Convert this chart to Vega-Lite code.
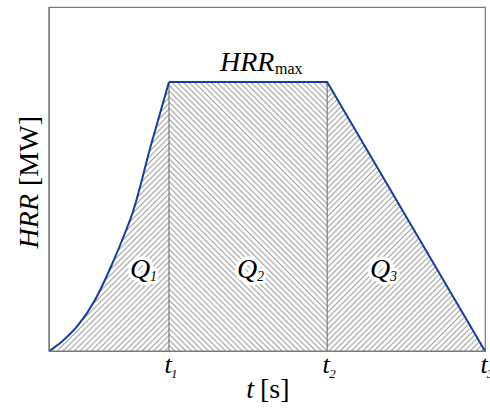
{
  "$schema": "https://vega.github.io/schema/vega-lite/v6.json",
  "width": 436,
  "height": 344,
  "autosize": {"type": "none"},
  "padding": {"left": 49, "top": 7, "right": 5, "bottom": 59},
  "background": "white",
  "config": {
    "view": {"stroke": "#7a7a7a", "strokeWidth": 1.2},
    "axis": {"disable": true},
    "text": {"font": "Liberation Serif", "color": "#000"}
  },
  "datasets": {
    "hrr": [
      {"t": 0, "q": 0, "part": "rise"},
      {"t": 2.91, "q": 2.7, "part": "rise"},
      {"t": 6.72, "q": 7.56, "part": "rise"},
      {"t": 10.55, "q": 14.83, "part": "rise"},
      {"t": 14.38, "q": 25.0, "part": "rise"},
      {"t": 17.43, "q": 34.3, "part": "rise"},
      {"t": 19.15, "q": 40.1, "part": "rise"},
      {"t": 23.39, "q": 59.9, "part": "rise"},
      {"t": 27.52, "q": 78.2, "part": "rise"},
      {"t": 27.52, "q": 78.2, "part": "fall"},
      {"t": 63.8, "q": 78.2, "part": "fall"},
      {"t": 100, "q": 0, "part": "fall"}
    ],
    "phases": [{"start": 27.52, "end": 63.8, "peak": 78.2}],
    "times": [
      {"t": 27.52, "sub": "1"},
      {"t": 63.8, "sub": "2"},
      {"t": 100, "sub": "3"}
    ],
    "heat": [
      {"t": 18.58, "h": 21.2, "sub": "1"},
      {"t": 43.1, "h": 21.2, "sub": "2"},
      {"t": 73.6, "h": 21.2, "sub": "3"}
    ]
  },
  "layer": [
    {
      "data": {"name": "hrr"},
      "transform": [{"filter": "datum.part === 'rise' || datum.t > 27.52"}],
      "mark": {
        "type": "area",
        "interpolate": "linear",
        "opacity": 1,
        "fill": {
          "gradient": "linear", "x1": 0, "y1": 0, "x2": 1.1747, "y2": 0.7247,
          "stops": [
            {"offset":0,"color":"#a8a8a8"},{"offset":0.0024,"color":"#fff"},{"offset":0.0056,"color":"#fff"},
            {"offset":0.008,"color":"#a8a8a8"},{"offset":0.0104,"color":"#fff"},{"offset":0.0136,"color":"#fff"},
            {"offset":0.016,"color":"#a8a8a8"},{"offset":0.0184,"color":"#fff"},{"offset":0.0216,"color":"#fff"},
            {"offset":0.024,"color":"#a8a8a8"},{"offset":0.0264,"color":"#fff"},{"offset":0.0296,"color":"#fff"},
            {"offset":0.032,"color":"#a8a8a8"},{"offset":0.0344,"color":"#fff"},{"offset":0.0376,"color":"#fff"},
            {"offset":0.04,"color":"#a8a8a8"},{"offset":0.0424,"color":"#fff"},{"offset":0.0456,"color":"#fff"},
            {"offset":0.048,"color":"#a8a8a8"},{"offset":0.0504,"color":"#fff"},{"offset":0.0536,"color":"#fff"},
            {"offset":0.056,"color":"#a8a8a8"},{"offset":0.0584,"color":"#fff"},{"offset":0.0616,"color":"#fff"},
            {"offset":0.064,"color":"#a8a8a8"},{"offset":0.0664,"color":"#fff"},{"offset":0.0696,"color":"#fff"},
            {"offset":0.072,"color":"#a8a8a8"},{"offset":0.0744,"color":"#fff"},{"offset":0.0776,"color":"#fff"},
            {"offset":0.08,"color":"#a8a8a8"},{"offset":0.0824,"color":"#fff"},{"offset":0.0856,"color":"#fff"},
            {"offset":0.088,"color":"#a8a8a8"},{"offset":0.0904,"color":"#fff"},{"offset":0.0936,"color":"#fff"},
            {"offset":0.096,"color":"#a8a8a8"},{"offset":0.0984,"color":"#fff"},{"offset":0.1016,"color":"#fff"},
            {"offset":0.104,"color":"#a8a8a8"},{"offset":0.1064,"color":"#fff"},{"offset":0.1096,"color":"#fff"},
            {"offset":0.112,"color":"#a8a8a8"},{"offset":0.1144,"color":"#fff"},{"offset":0.1176,"color":"#fff"},
            {"offset":0.12,"color":"#a8a8a8"},{"offset":0.1224,"color":"#fff"},{"offset":0.1256,"color":"#fff"},
            {"offset":0.128,"color":"#a8a8a8"},{"offset":0.1304,"color":"#fff"},{"offset":0.1336,"color":"#fff"},
            {"offset":0.136,"color":"#a8a8a8"},{"offset":0.1384,"color":"#fff"},{"offset":0.1416,"color":"#fff"},
            {"offset":0.144,"color":"#a8a8a8"},{"offset":0.1464,"color":"#fff"},{"offset":0.1496,"color":"#fff"},
            {"offset":0.152,"color":"#a8a8a8"},{"offset":0.1544,"color":"#fff"},{"offset":0.1576,"color":"#fff"},
            {"offset":0.16,"color":"#a8a8a8"},{"offset":0.1624,"color":"#fff"},{"offset":0.1656,"color":"#fff"},
            {"offset":0.168,"color":"#a8a8a8"},{"offset":0.1704,"color":"#fff"},{"offset":0.1736,"color":"#fff"},
            {"offset":0.176,"color":"#a8a8a8"},{"offset":0.1784,"color":"#fff"},{"offset":0.1816,"color":"#fff"},
            {"offset":0.184,"color":"#a8a8a8"},{"offset":0.1864,"color":"#fff"},{"offset":0.1896,"color":"#fff"},
            {"offset":0.192,"color":"#a8a8a8"},{"offset":0.1944,"color":"#fff"},{"offset":0.1976,"color":"#fff"},
            {"offset":0.2,"color":"#a8a8a8"},{"offset":0.2024,"color":"#fff"},{"offset":0.2056,"color":"#fff"},
            {"offset":0.208,"color":"#a8a8a8"},{"offset":0.2104,"color":"#fff"},{"offset":0.2136,"color":"#fff"},
            {"offset":0.216,"color":"#a8a8a8"},{"offset":0.2184,"color":"#fff"},{"offset":0.2216,"color":"#fff"},
            {"offset":0.224,"color":"#a8a8a8"},{"offset":0.2264,"color":"#fff"},{"offset":0.2296,"color":"#fff"},
            {"offset":0.232,"color":"#a8a8a8"},{"offset":0.2344,"color":"#fff"},{"offset":0.2376,"color":"#fff"},
            {"offset":0.24,"color":"#a8a8a8"},{"offset":0.2424,"color":"#fff"},{"offset":0.2456,"color":"#fff"},
            {"offset":0.248,"color":"#a8a8a8"},{"offset":0.2504,"color":"#fff"},{"offset":0.2536,"color":"#fff"},
            {"offset":0.256,"color":"#a8a8a8"},{"offset":0.2584,"color":"#fff"},{"offset":0.2616,"color":"#fff"},
            {"offset":0.264,"color":"#a8a8a8"},{"offset":0.2664,"color":"#fff"},{"offset":0.2696,"color":"#fff"},
            {"offset":0.272,"color":"#a8a8a8"},{"offset":0.2744,"color":"#fff"},{"offset":0.2776,"color":"#fff"},
            {"offset":0.28,"color":"#a8a8a8"},{"offset":0.2824,"color":"#fff"},{"offset":0.2856,"color":"#fff"},
            {"offset":0.288,"color":"#a8a8a8"},{"offset":0.2904,"color":"#fff"},{"offset":0.2936,"color":"#fff"},
            {"offset":0.296,"color":"#a8a8a8"},{"offset":0.2984,"color":"#fff"},{"offset":0.3016,"color":"#fff"},
            {"offset":0.304,"color":"#a8a8a8"},{"offset":0.3064,"color":"#fff"},{"offset":0.3096,"color":"#fff"},
            {"offset":0.312,"color":"#a8a8a8"},{"offset":0.3144,"color":"#fff"},{"offset":0.3176,"color":"#fff"},
            {"offset":0.32,"color":"#a8a8a8"},{"offset":0.3224,"color":"#fff"},{"offset":0.3256,"color":"#fff"},
            {"offset":0.328,"color":"#a8a8a8"},{"offset":0.3304,"color":"#fff"},{"offset":0.3336,"color":"#fff"},
            {"offset":0.336,"color":"#a8a8a8"},{"offset":0.3384,"color":"#fff"},{"offset":0.3416,"color":"#fff"},
            {"offset":0.344,"color":"#a8a8a8"},{"offset":0.3464,"color":"#fff"},{"offset":0.3496,"color":"#fff"},
            {"offset":0.352,"color":"#a8a8a8"},{"offset":0.3544,"color":"#fff"},{"offset":0.3576,"color":"#fff"},
            {"offset":0.36,"color":"#a8a8a8"},{"offset":0.3624,"color":"#fff"},{"offset":0.3656,"color":"#fff"},
            {"offset":0.368,"color":"#a8a8a8"},{"offset":0.3704,"color":"#fff"},{"offset":0.3736,"color":"#fff"},
            {"offset":0.376,"color":"#a8a8a8"},{"offset":0.3784,"color":"#fff"},{"offset":0.3816,"color":"#fff"},
            {"offset":0.384,"color":"#a8a8a8"},{"offset":0.3864,"color":"#fff"},{"offset":0.3896,"color":"#fff"},
            {"offset":0.392,"color":"#a8a8a8"},{"offset":0.3944,"color":"#fff"},{"offset":0.3976,"color":"#fff"},
            {"offset":0.4,"color":"#a8a8a8"},{"offset":0.4024,"color":"#fff"},{"offset":0.4056,"color":"#fff"},
            {"offset":0.408,"color":"#a8a8a8"},{"offset":0.4104,"color":"#fff"},{"offset":0.4136,"color":"#fff"},
            {"offset":0.416,"color":"#a8a8a8"},{"offset":0.4184,"color":"#fff"},{"offset":0.4216,"color":"#fff"},
            {"offset":0.424,"color":"#a8a8a8"},{"offset":0.4264,"color":"#fff"},{"offset":0.4296,"color":"#fff"},
            {"offset":0.432,"color":"#a8a8a8"},{"offset":0.4344,"color":"#fff"},{"offset":0.4376,"color":"#fff"},
            {"offset":0.44,"color":"#a8a8a8"},{"offset":0.4424,"color":"#fff"},{"offset":0.4456,"color":"#fff"},
            {"offset":0.448,"color":"#a8a8a8"},{"offset":0.4504,"color":"#fff"},{"offset":0.4536,"color":"#fff"},
            {"offset":0.456,"color":"#a8a8a8"},{"offset":0.4584,"color":"#fff"},{"offset":0.4616,"color":"#fff"},
            {"offset":0.464,"color":"#a8a8a8"},{"offset":0.4664,"color":"#fff"},{"offset":0.4696,"color":"#fff"},
            {"offset":0.472,"color":"#a8a8a8"},{"offset":0.4744,"color":"#fff"},{"offset":0.4776,"color":"#fff"},
            {"offset":0.48,"color":"#a8a8a8"},{"offset":0.4824,"color":"#fff"},{"offset":0.4856,"color":"#fff"},
            {"offset":0.488,"color":"#a8a8a8"},{"offset":0.4904,"color":"#fff"},{"offset":0.4936,"color":"#fff"},
            {"offset":0.496,"color":"#a8a8a8"},{"offset":0.4984,"color":"#fff"},{"offset":0.5016,"color":"#fff"},
            {"offset":0.504,"color":"#a8a8a8"},{"offset":0.5064,"color":"#fff"},{"offset":0.5096,"color":"#fff"},
            {"offset":0.512,"color":"#a8a8a8"},{"offset":0.5144,"color":"#fff"},{"offset":0.5176,"color":"#fff"},
            {"offset":0.52,"color":"#a8a8a8"},{"offset":0.5224,"color":"#fff"},{"offset":0.5256,"color":"#fff"},
            {"offset":0.528,"color":"#a8a8a8"},{"offset":0.5304,"color":"#fff"},{"offset":0.5336,"color":"#fff"},
            {"offset":0.536,"color":"#a8a8a8"},{"offset":0.5384,"color":"#fff"},{"offset":0.5416,"color":"#fff"},
            {"offset":0.544,"color":"#a8a8a8"},{"offset":0.5464,"color":"#fff"},{"offset":0.5496,"color":"#fff"},
            {"offset":0.552,"color":"#a8a8a8"},{"offset":0.5544,"color":"#fff"},{"offset":0.5576,"color":"#fff"},
            {"offset":0.56,"color":"#a8a8a8"},{"offset":0.5624,"color":"#fff"},{"offset":0.5656,"color":"#fff"},
            {"offset":0.568,"color":"#a8a8a8"},{"offset":0.5704,"color":"#fff"},{"offset":0.5736,"color":"#fff"},
            {"offset":0.576,"color":"#a8a8a8"},{"offset":0.5784,"color":"#fff"},{"offset":0.5816,"color":"#fff"},
            {"offset":0.584,"color":"#a8a8a8"},{"offset":0.5864,"color":"#fff"},{"offset":0.5896,"color":"#fff"},
            {"offset":0.592,"color":"#a8a8a8"},{"offset":0.5944,"color":"#fff"},{"offset":0.5976,"color":"#fff"},
            {"offset":0.6,"color":"#a8a8a8"},{"offset":0.6024,"color":"#fff"},{"offset":0.6056,"color":"#fff"},
            {"offset":0.608,"color":"#a8a8a8"},{"offset":0.6104,"color":"#fff"},{"offset":0.6136,"color":"#fff"},
            {"offset":0.616,"color":"#a8a8a8"},{"offset":0.6184,"color":"#fff"},{"offset":0.6216,"color":"#fff"},
            {"offset":0.624,"color":"#a8a8a8"},{"offset":0.6264,"color":"#fff"},{"offset":0.6296,"color":"#fff"},
            {"offset":0.632,"color":"#a8a8a8"},{"offset":0.6344,"color":"#fff"},{"offset":0.6376,"color":"#fff"},
            {"offset":0.64,"color":"#a8a8a8"},{"offset":0.6424,"color":"#fff"},{"offset":0.6456,"color":"#fff"},
            {"offset":0.648,"color":"#a8a8a8"},{"offset":0.6504,"color":"#fff"},{"offset":0.6536,"color":"#fff"},
            {"offset":0.656,"color":"#a8a8a8"},{"offset":0.6584,"color":"#fff"},{"offset":0.6616,"color":"#fff"},
            {"offset":0.664,"color":"#a8a8a8"},{"offset":0.6664,"color":"#fff"},{"offset":0.6696,"color":"#fff"},
            {"offset":0.672,"color":"#a8a8a8"},{"offset":0.6744,"color":"#fff"},{"offset":0.6776,"color":"#fff"},
            {"offset":0.68,"color":"#a8a8a8"},{"offset":0.6824,"color":"#fff"},{"offset":0.6856,"color":"#fff"},
            {"offset":0.688,"color":"#a8a8a8"},{"offset":0.6904,"color":"#fff"},{"offset":0.6936,"color":"#fff"},
            {"offset":0.696,"color":"#a8a8a8"},{"offset":0.6984,"color":"#fff"},{"offset":0.7016,"color":"#fff"},
            {"offset":0.704,"color":"#a8a8a8"},{"offset":0.7064,"color":"#fff"},{"offset":0.7096,"color":"#fff"},
            {"offset":0.712,"color":"#a8a8a8"},{"offset":0.7144,"color":"#fff"},{"offset":0.7176,"color":"#fff"},
            {"offset":0.72,"color":"#a8a8a8"},{"offset":0.7224,"color":"#fff"},{"offset":0.7256,"color":"#fff"},
            {"offset":0.728,"color":"#a8a8a8"},{"offset":0.7304,"color":"#fff"},{"offset":0.7336,"color":"#fff"},
            {"offset":0.736,"color":"#a8a8a8"},{"offset":0.7384,"color":"#fff"},{"offset":0.7416,"color":"#fff"},
            {"offset":0.744,"color":"#a8a8a8"},{"offset":0.7464,"color":"#fff"},{"offset":0.7496,"color":"#fff"},
            {"offset":0.752,"color":"#a8a8a8"},{"offset":0.7544,"color":"#fff"},{"offset":0.7576,"color":"#fff"},
            {"offset":0.76,"color":"#a8a8a8"},{"offset":0.7624,"color":"#fff"},{"offset":0.7656,"color":"#fff"},
            {"offset":0.768,"color":"#a8a8a8"},{"offset":0.7704,"color":"#fff"},{"offset":0.7736,"color":"#fff"},
            {"offset":0.776,"color":"#a8a8a8"},{"offset":0.7784,"color":"#fff"},{"offset":0.7816,"color":"#fff"},
            {"offset":0.784,"color":"#a8a8a8"},{"offset":0.7864,"color":"#fff"},{"offset":0.7896,"color":"#fff"},
            {"offset":0.792,"color":"#a8a8a8"},{"offset":0.7944,"color":"#fff"},{"offset":0.7976,"color":"#fff"},
            {"offset":0.8,"color":"#a8a8a8"},{"offset":0.8024,"color":"#fff"},{"offset":0.8056,"color":"#fff"},
            {"offset":0.808,"color":"#a8a8a8"},{"offset":0.8104,"color":"#fff"},{"offset":0.8136,"color":"#fff"},
            {"offset":0.816,"color":"#a8a8a8"},{"offset":0.8184,"color":"#fff"},{"offset":0.8216,"color":"#fff"},
            {"offset":0.824,"color":"#a8a8a8"},{"offset":0.8264,"color":"#fff"},{"offset":0.8296,"color":"#fff"},
            {"offset":0.832,"color":"#a8a8a8"},{"offset":0.8344,"color":"#fff"},{"offset":0.8376,"color":"#fff"},
            {"offset":0.84,"color":"#a8a8a8"},{"offset":0.8424,"color":"#fff"},{"offset":0.8456,"color":"#fff"},
            {"offset":0.848,"color":"#a8a8a8"},{"offset":0.8504,"color":"#fff"},{"offset":0.8536,"color":"#fff"},
            {"offset":0.856,"color":"#a8a8a8"},{"offset":0.8584,"color":"#fff"},{"offset":0.8616,"color":"#fff"},
            {"offset":0.864,"color":"#a8a8a8"},{"offset":0.8664,"color":"#fff"},{"offset":0.8696,"color":"#fff"},
            {"offset":0.872,"color":"#a8a8a8"},{"offset":0.8744,"color":"#fff"},{"offset":0.8776,"color":"#fff"},
            {"offset":0.88,"color":"#a8a8a8"},{"offset":0.8824,"color":"#fff"},{"offset":0.8856,"color":"#fff"},
            {"offset":0.888,"color":"#a8a8a8"},{"offset":0.8904,"color":"#fff"},{"offset":0.8936,"color":"#fff"},
            {"offset":0.896,"color":"#a8a8a8"},{"offset":0.8984,"color":"#fff"},{"offset":0.9016,"color":"#fff"},
            {"offset":0.904,"color":"#a8a8a8"},{"offset":0.9064,"color":"#fff"},{"offset":0.9096,"color":"#fff"},
            {"offset":0.912,"color":"#a8a8a8"},{"offset":0.9144,"color":"#fff"},{"offset":0.9176,"color":"#fff"},
            {"offset":0.92,"color":"#a8a8a8"},{"offset":0.9224,"color":"#fff"},{"offset":0.9256,"color":"#fff"},
            {"offset":0.928,"color":"#a8a8a8"},{"offset":0.9304,"color":"#fff"},{"offset":0.9336,"color":"#fff"},
            {"offset":0.936,"color":"#a8a8a8"},{"offset":0.9384,"color":"#fff"},{"offset":0.9416,"color":"#fff"},
            {"offset":0.944,"color":"#a8a8a8"},{"offset":0.9464,"color":"#fff"},{"offset":0.9496,"color":"#fff"},
            {"offset":0.952,"color":"#a8a8a8"},{"offset":0.9544,"color":"#fff"},{"offset":0.9576,"color":"#fff"},
            {"offset":0.96,"color":"#a8a8a8"},{"offset":0.9624,"color":"#fff"},{"offset":0.9656,"color":"#fff"},
            {"offset":0.968,"color":"#a8a8a8"},{"offset":0.9704,"color":"#fff"},{"offset":0.9736,"color":"#fff"},
            {"offset":0.976,"color":"#a8a8a8"},{"offset":0.9784,"color":"#fff"},{"offset":0.9816,"color":"#fff"},
            {"offset":0.984,"color":"#a8a8a8"},{"offset":0.9864,"color":"#fff"},{"offset":0.9896,"color":"#fff"},
            {"offset":0.992,"color":"#a8a8a8"},{"offset":0.9944,"color":"#fff"},{"offset":0.9976,"color":"#fff"},
            {"offset":1,"color":"#a8a8a8"}
          ]
        }
      },
      "encoding": {
        "x": {"field": "t", "type": "quantitative", "scale": {"domain": [0, 100], "nice": false, "zero": false}},
        "y": {"field": "q", "type": "quantitative", "stack": null, "scale": {"domain": [0, 100], "nice": false, "zero": false}}
      }
    },
    {
      "data": {"name": "phases"},
      "mark": {
        "type": "rect",
        "opacity": 1,
        "fill": {
          "gradient": "linear", "x1": 0, "y1": 1, "x2": 1.149, "y2": -0.9525,
          "stops": [
            {"offset":0,"color":"#a8a8a8"},{"offset":0.0024,"color":"#fff"},{"offset":0.0056,"color":"#fff"},
            {"offset":0.008,"color":"#a8a8a8"},{"offset":0.0104,"color":"#fff"},{"offset":0.0136,"color":"#fff"},
            {"offset":0.016,"color":"#a8a8a8"},{"offset":0.0184,"color":"#fff"},{"offset":0.0216,"color":"#fff"},
            {"offset":0.024,"color":"#a8a8a8"},{"offset":0.0264,"color":"#fff"},{"offset":0.0296,"color":"#fff"},
            {"offset":0.032,"color":"#a8a8a8"},{"offset":0.0344,"color":"#fff"},{"offset":0.0376,"color":"#fff"},
            {"offset":0.04,"color":"#a8a8a8"},{"offset":0.0424,"color":"#fff"},{"offset":0.0456,"color":"#fff"},
            {"offset":0.048,"color":"#a8a8a8"},{"offset":0.0504,"color":"#fff"},{"offset":0.0536,"color":"#fff"},
            {"offset":0.056,"color":"#a8a8a8"},{"offset":0.0584,"color":"#fff"},{"offset":0.0616,"color":"#fff"},
            {"offset":0.064,"color":"#a8a8a8"},{"offset":0.0664,"color":"#fff"},{"offset":0.0696,"color":"#fff"},
            {"offset":0.072,"color":"#a8a8a8"},{"offset":0.0744,"color":"#fff"},{"offset":0.0776,"color":"#fff"},
            {"offset":0.08,"color":"#a8a8a8"},{"offset":0.0824,"color":"#fff"},{"offset":0.0856,"color":"#fff"},
            {"offset":0.088,"color":"#a8a8a8"},{"offset":0.0904,"color":"#fff"},{"offset":0.0936,"color":"#fff"},
            {"offset":0.096,"color":"#a8a8a8"},{"offset":0.0984,"color":"#fff"},{"offset":0.1016,"color":"#fff"},
            {"offset":0.104,"color":"#a8a8a8"},{"offset":0.1064,"color":"#fff"},{"offset":0.1096,"color":"#fff"},
            {"offset":0.112,"color":"#a8a8a8"},{"offset":0.1144,"color":"#fff"},{"offset":0.1176,"color":"#fff"},
            {"offset":0.12,"color":"#a8a8a8"},{"offset":0.1224,"color":"#fff"},{"offset":0.1256,"color":"#fff"},
            {"offset":0.128,"color":"#a8a8a8"},{"offset":0.1304,"color":"#fff"},{"offset":0.1336,"color":"#fff"},
            {"offset":0.136,"color":"#a8a8a8"},{"offset":0.1384,"color":"#fff"},{"offset":0.1416,"color":"#fff"},
            {"offset":0.144,"color":"#a8a8a8"},{"offset":0.1464,"color":"#fff"},{"offset":0.1496,"color":"#fff"},
            {"offset":0.152,"color":"#a8a8a8"},{"offset":0.1544,"color":"#fff"},{"offset":0.1576,"color":"#fff"},
            {"offset":0.16,"color":"#a8a8a8"},{"offset":0.1624,"color":"#fff"},{"offset":0.1656,"color":"#fff"},
            {"offset":0.168,"color":"#a8a8a8"},{"offset":0.1704,"color":"#fff"},{"offset":0.1736,"color":"#fff"},
            {"offset":0.176,"color":"#a8a8a8"},{"offset":0.1784,"color":"#fff"},{"offset":0.1816,"color":"#fff"},
            {"offset":0.184,"color":"#a8a8a8"},{"offset":0.1864,"color":"#fff"},{"offset":0.1896,"color":"#fff"},
            {"offset":0.192,"color":"#a8a8a8"},{"offset":0.1944,"color":"#fff"},{"offset":0.1976,"color":"#fff"},
            {"offset":0.2,"color":"#a8a8a8"},{"offset":0.2024,"color":"#fff"},{"offset":0.2056,"color":"#fff"},
            {"offset":0.208,"color":"#a8a8a8"},{"offset":0.2104,"color":"#fff"},{"offset":0.2136,"color":"#fff"},
            {"offset":0.216,"color":"#a8a8a8"},{"offset":0.2184,"color":"#fff"},{"offset":0.2216,"color":"#fff"},
            {"offset":0.224,"color":"#a8a8a8"},{"offset":0.2264,"color":"#fff"},{"offset":0.2296,"color":"#fff"},
            {"offset":0.232,"color":"#a8a8a8"},{"offset":0.2344,"color":"#fff"},{"offset":0.2376,"color":"#fff"},
            {"offset":0.24,"color":"#a8a8a8"},{"offset":0.2424,"color":"#fff"},{"offset":0.2456,"color":"#fff"},
            {"offset":0.248,"color":"#a8a8a8"},{"offset":0.2504,"color":"#fff"},{"offset":0.2536,"color":"#fff"},
            {"offset":0.256,"color":"#a8a8a8"},{"offset":0.2584,"color":"#fff"},{"offset":0.2616,"color":"#fff"},
            {"offset":0.264,"color":"#a8a8a8"},{"offset":0.2664,"color":"#fff"},{"offset":0.2696,"color":"#fff"},
            {"offset":0.272,"color":"#a8a8a8"},{"offset":0.2744,"color":"#fff"},{"offset":0.2776,"color":"#fff"},
            {"offset":0.28,"color":"#a8a8a8"},{"offset":0.2824,"color":"#fff"},{"offset":0.2856,"color":"#fff"},
            {"offset":0.288,"color":"#a8a8a8"},{"offset":0.2904,"color":"#fff"},{"offset":0.2936,"color":"#fff"},
            {"offset":0.296,"color":"#a8a8a8"},{"offset":0.2984,"color":"#fff"},{"offset":0.3016,"color":"#fff"},
            {"offset":0.304,"color":"#a8a8a8"},{"offset":0.3064,"color":"#fff"},{"offset":0.3096,"color":"#fff"},
            {"offset":0.312,"color":"#a8a8a8"},{"offset":0.3144,"color":"#fff"},{"offset":0.3176,"color":"#fff"},
            {"offset":0.32,"color":"#a8a8a8"},{"offset":0.3224,"color":"#fff"},{"offset":0.3256,"color":"#fff"},
            {"offset":0.328,"color":"#a8a8a8"},{"offset":0.3304,"color":"#fff"},{"offset":0.3336,"color":"#fff"},
            {"offset":0.336,"color":"#a8a8a8"},{"offset":0.3384,"color":"#fff"},{"offset":0.3416,"color":"#fff"},
            {"offset":0.344,"color":"#a8a8a8"},{"offset":0.3464,"color":"#fff"},{"offset":0.3496,"color":"#fff"},
            {"offset":0.352,"color":"#a8a8a8"},{"offset":0.3544,"color":"#fff"},{"offset":0.3576,"color":"#fff"},
            {"offset":0.36,"color":"#a8a8a8"},{"offset":0.3624,"color":"#fff"},{"offset":0.3656,"color":"#fff"},
            {"offset":0.368,"color":"#a8a8a8"},{"offset":0.3704,"color":"#fff"},{"offset":0.3736,"color":"#fff"},
            {"offset":0.376,"color":"#a8a8a8"},{"offset":0.3784,"color":"#fff"},{"offset":0.3816,"color":"#fff"},
            {"offset":0.384,"color":"#a8a8a8"},{"offset":0.3864,"color":"#fff"},{"offset":0.3896,"color":"#fff"},
            {"offset":0.392,"color":"#a8a8a8"},{"offset":0.3944,"color":"#fff"},{"offset":0.3976,"color":"#fff"},
            {"offset":0.4,"color":"#a8a8a8"},{"offset":0.4024,"color":"#fff"},{"offset":0.4056,"color":"#fff"},
            {"offset":0.408,"color":"#a8a8a8"},{"offset":0.4104,"color":"#fff"},{"offset":0.4136,"color":"#fff"},
            {"offset":0.416,"color":"#a8a8a8"},{"offset":0.4184,"color":"#fff"},{"offset":0.4216,"color":"#fff"},
            {"offset":0.424,"color":"#a8a8a8"},{"offset":0.4264,"color":"#fff"},{"offset":0.4296,"color":"#fff"},
            {"offset":0.432,"color":"#a8a8a8"},{"offset":0.4344,"color":"#fff"},{"offset":0.4376,"color":"#fff"},
            {"offset":0.44,"color":"#a8a8a8"},{"offset":0.4424,"color":"#fff"},{"offset":0.4456,"color":"#fff"},
            {"offset":0.448,"color":"#a8a8a8"},{"offset":0.4504,"color":"#fff"},{"offset":0.4536,"color":"#fff"},
            {"offset":0.456,"color":"#a8a8a8"},{"offset":0.4584,"color":"#fff"},{"offset":0.4616,"color":"#fff"},
            {"offset":0.464,"color":"#a8a8a8"},{"offset":0.4664,"color":"#fff"},{"offset":0.4696,"color":"#fff"},
            {"offset":0.472,"color":"#a8a8a8"},{"offset":0.4744,"color":"#fff"},{"offset":0.4776,"color":"#fff"},
            {"offset":0.48,"color":"#a8a8a8"},{"offset":0.4824,"color":"#fff"},{"offset":0.4856,"color":"#fff"},
            {"offset":0.488,"color":"#a8a8a8"},{"offset":0.4904,"color":"#fff"},{"offset":0.4936,"color":"#fff"},
            {"offset":0.496,"color":"#a8a8a8"},{"offset":0.4984,"color":"#fff"},{"offset":0.5016,"color":"#fff"},
            {"offset":0.504,"color":"#a8a8a8"},{"offset":0.5064,"color":"#fff"},{"offset":0.5096,"color":"#fff"},
            {"offset":0.512,"color":"#a8a8a8"},{"offset":0.5144,"color":"#fff"},{"offset":0.5176,"color":"#fff"},
            {"offset":0.52,"color":"#a8a8a8"},{"offset":0.5224,"color":"#fff"},{"offset":0.5256,"color":"#fff"},
            {"offset":0.528,"color":"#a8a8a8"},{"offset":0.5304,"color":"#fff"},{"offset":0.5336,"color":"#fff"},
            {"offset":0.536,"color":"#a8a8a8"},{"offset":0.5384,"color":"#fff"},{"offset":0.5416,"color":"#fff"},
            {"offset":0.544,"color":"#a8a8a8"},{"offset":0.5464,"color":"#fff"},{"offset":0.5496,"color":"#fff"},
            {"offset":0.552,"color":"#a8a8a8"},{"offset":0.5544,"color":"#fff"},{"offset":0.5576,"color":"#fff"},
            {"offset":0.56,"color":"#a8a8a8"},{"offset":0.5624,"color":"#fff"},{"offset":0.5656,"color":"#fff"},
            {"offset":0.568,"color":"#a8a8a8"},{"offset":0.5704,"color":"#fff"},{"offset":0.5736,"color":"#fff"},
            {"offset":0.576,"color":"#a8a8a8"},{"offset":0.5784,"color":"#fff"},{"offset":0.5816,"color":"#fff"},
            {"offset":0.584,"color":"#a8a8a8"},{"offset":0.5864,"color":"#fff"},{"offset":0.5896,"color":"#fff"},
            {"offset":0.592,"color":"#a8a8a8"},{"offset":0.5944,"color":"#fff"},{"offset":0.5976,"color":"#fff"},
            {"offset":0.6,"color":"#a8a8a8"},{"offset":0.6024,"color":"#fff"},{"offset":0.6056,"color":"#fff"},
            {"offset":0.608,"color":"#a8a8a8"},{"offset":0.6104,"color":"#fff"},{"offset":0.6136,"color":"#fff"}
          ]
        }
      },
      "encoding": {
        "x": {"field": "start", "type": "quantitative"},
        "x2": {"field": "end"},
        "y": {"field": "peak", "type": "quantitative"},
        "y2": {"datum": 0}
      }
    },
    {
      "data": {"name": "times"},
      "transform": [{"filter": "datum.t < 100"}],
      "mark": {"type": "rule", "color": "#666", "strokeWidth": 1},
      "encoding": {
        "x": {"field": "t", "type": "quantitative"},
        "y": {"datum": 0},
        "y2": {"datum": 78.2}
      }
    },
    {
      "data": {"name": "hrr"},
      "transform": [{"filter": "datum.part === 'rise'"}],
      "mark": {"type": "line", "interpolate": "monotone", "color": "#1b3d98", "strokeWidth": 2},
      "encoding": {
        "x": {"field": "t", "type": "quantitative"},
        "y": {"field": "q", "type": "quantitative"}
      }
    },
    {
      "data": {"name": "hrr"},
      "transform": [{"filter": "datum.part === 'fall'"}],
      "mark": {"type": "line", "interpolate": "linear", "color": "#1b3d98", "strokeWidth": 2},
      "encoding": {
        "x": {"field": "t", "type": "quantitative"},
        "y": {"field": "q", "type": "quantitative"}
      }
    },
    {
      "data": {"values": [{}]},
      "mark": {"type": "rule", "color": "#7a7a7a", "strokeWidth": 1.2},
      "encoding": {"x": {"datum": 0}, "x2": {"datum": 100}, "y": {"datum": 0}}
    },
    {
      "data": {"values": [{}]},
      "mark": {"type": "rule", "color": "#7a7a7a", "strokeWidth": 1.2},
      "encoding": {"x": {"datum": 0}, "y": {"datum": 0}, "y2": {"datum": 100}}
    },
    {
      "data": {"name": "heat"},
      "mark": {"type": "text", "fontStyle": "italic", "fontSize": 28, "align": "left", "baseline": "alphabetic", "fill": "white", "stroke": "white", "strokeWidth": 7, "strokeJoin": "round"},
      "encoding": {"x": {"field": "t", "type": "quantitative"}, "y": {"field": "h", "type": "quantitative"}, "text": {"value": "Q"}}
    },
    {
      "data": {"name": "heat"},
      "mark": {"type": "text", "fontStyle": "italic", "fontSize": 14, "align": "left", "baseline": "alphabetic", "dx": 20, "dy": 3, "fill": "white", "stroke": "white", "strokeWidth": 6, "strokeJoin": "round"},
      "encoding": {"x": {"field": "t", "type": "quantitative"}, "y": {"field": "h", "type": "quantitative"}, "text": {"field": "sub"}}
    },
    {
      "data": {"name": "heat"},
      "mark": {"type": "text", "fontStyle": "italic", "fontSize": 28, "align": "left", "baseline": "alphabetic"},
      "encoding": {"x": {"field": "t", "type": "quantitative"}, "y": {"field": "h", "type": "quantitative"}, "text": {"value": "Q"}}
    },
    {
      "data": {"name": "heat"},
      "mark": {"type": "text", "fontStyle": "italic", "fontSize": 14, "align": "left", "baseline": "alphabetic", "dx": 20, "dy": 3},
      "encoding": {"x": {"field": "t", "type": "quantitative"}, "y": {"field": "h", "type": "quantitative"}, "text": {"field": "sub"}}
    },
    {
      "data": {"name": "phases"},
      "mark": {"type": "text", "fontStyle": "italic", "fontSize": 28, "align": "left", "baseline": "alphabetic", "dx": 51, "dy": -11},
      "encoding": {"x": {"field": "start", "type": "quantitative"}, "y": {"field": "peak", "type": "quantitative"}, "text": {"value": "HRR"}}
    },
    {
      "data": {"name": "phases"},
      "mark": {"type": "text", "fontSize": 16, "align": "left", "baseline": "alphabetic", "dx": 106, "dy": -8},
      "encoding": {"x": {"field": "start", "type": "quantitative"}, "y": {"field": "peak", "type": "quantitative"}, "text": {"value": "max"}}
    },
    {
      "data": {"name": "times"},
      "mark": {"type": "text", "fontStyle": "italic", "fontSize": 26, "align": "center", "baseline": "alphabetic", "dx": -1, "dy": 22},
      "encoding": {"x": {"field": "t", "type": "quantitative"}, "y": {"datum": 0}, "text": {"value": "t"}}
    },
    {
      "data": {"name": "times"},
      "mark": {"type": "text", "fontStyle": "italic", "fontSize": 13, "align": "left", "baseline": "alphabetic", "dx": 2, "dy": 27},
      "encoding": {"x": {"field": "t", "type": "quantitative"}, "y": {"datum": 0}, "text": {"field": "sub"}}
    },
    {
      "data": {"values": [{}]},
      "mark": {"type": "text", "fontStyle": "italic", "fontSize": 28, "align": "right", "baseline": "alphabetic", "dx": -1, "dy": 47},
      "encoding": {"x": {"datum": 47.25}, "y": {"datum": 0}, "text": {"value": "t"}}
    },
    {
      "data": {"values": [{}]},
      "mark": {"type": "text", "fontSize": 28, "align": "left", "baseline": "alphabetic", "dx": 5, "dy": 47},
      "encoding": {"x": {"datum": 47.25}, "y": {"datum": 0}, "text": {"value": "[s]"}}
    },
    {
      "data": {"values": [{}]},
      "mark": {"type": "text", "fontStyle": "italic", "fontSize": 28, "angle": 270, "align": "right", "baseline": "alphabetic", "dx": -4, "dy": -11.5},
      "encoding": {"x": {"datum": 0}, "y": {"datum": 46.8}, "text": {"value": "HRR"}}
    },
    {
      "data": {"values": [{}]},
      "mark": {"type": "text", "fontSize": 28, "angle": 270, "align": "left", "baseline": "alphabetic", "dx": 4, "dy": -11.5},
      "encoding": {"x": {"datum": 0}, "y": {"datum": 46.8}, "text": {"value": "[MW]"}}
    }
  ]
}
